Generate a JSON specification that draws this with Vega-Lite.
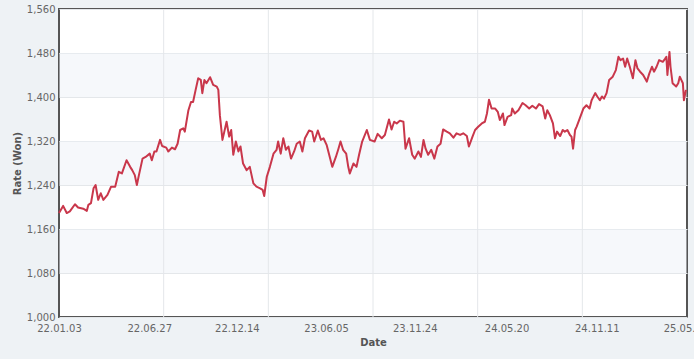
{
  "$schema": "https://vega.github.io/schema/vega-lite/v6.json",
  "width": 628,
  "height": 308,
  "autosize": {"type": "none"},
  "padding": {"left": 59, "top": 9, "right": 7, "bottom": 42},
  "background": "#eef2f5",
  "datasets": {
    "bands": [{"lo": 1080, "hi": 1160}, {"lo": 1240, "hi": 1320}, {"lo": 1400, "hi": 1480}],
    "grid": [{"g": "2022-07-25"}, {"g": "2023-02-13"}, {"g": "2023-09-04"}, {"g": "2024-03-25"}, {"g": "2024-10-14"}],
    "rates": [
      {"date": "2022-01-03", "rate": 1189}, {"date": "2022-01-11", "rate": 1202}, {"date": "2022-01-18", "rate": 1189},
      {"date": "2022-01-24", "rate": 1192}, {"date": "2022-02-03", "rate": 1205}, {"date": "2022-02-09", "rate": 1199},
      {"date": "2022-02-19", "rate": 1197}, {"date": "2022-02-26", "rate": 1193}, {"date": "2022-03-01", "rate": 1204},
      {"date": "2022-03-06", "rate": 1207}, {"date": "2022-03-11", "rate": 1234}, {"date": "2022-03-15", "rate": 1240},
      {"date": "2022-03-20", "rate": 1213}, {"date": "2022-03-25", "rate": 1225}, {"date": "2022-03-30", "rate": 1213},
      {"date": "2022-04-07", "rate": 1222}, {"date": "2022-04-14", "rate": 1237}, {"date": "2022-04-22", "rate": 1237},
      {"date": "2022-04-29", "rate": 1264}, {"date": "2022-05-05", "rate": 1261}, {"date": "2022-05-14", "rate": 1285},
      {"date": "2022-05-21", "rate": 1273}, {"date": "2022-05-25", "rate": 1267}, {"date": "2022-05-30", "rate": 1258},
      {"date": "2022-06-03", "rate": 1240}, {"date": "2022-06-07", "rate": 1258}, {"date": "2022-06-14", "rate": 1288},
      {"date": "2022-06-20", "rate": 1291}, {"date": "2022-06-28", "rate": 1297}, {"date": "2022-07-02", "rate": 1285},
      {"date": "2022-07-07", "rate": 1301}, {"date": "2022-07-11", "rate": 1301}, {"date": "2022-07-18", "rate": 1322},
      {"date": "2022-07-22", "rate": 1311}, {"date": "2022-07-30", "rate": 1308}, {"date": "2022-08-03", "rate": 1301},
      {"date": "2022-08-10", "rate": 1308}, {"date": "2022-08-16", "rate": 1305}, {"date": "2022-08-21", "rate": 1315},
      {"date": "2022-08-26", "rate": 1340}, {"date": "2022-09-01", "rate": 1343}, {"date": "2022-09-04", "rate": 1337},
      {"date": "2022-09-11", "rate": 1376}, {"date": "2022-09-16", "rate": 1391}, {"date": "2022-09-20", "rate": 1391},
      {"date": "2022-09-25", "rate": 1413}, {"date": "2022-09-30", "rate": 1434}, {"date": "2022-10-05", "rate": 1431},
      {"date": "2022-10-08", "rate": 1407}, {"date": "2022-10-12", "rate": 1431}, {"date": "2022-10-16", "rate": 1425},
      {"date": "2022-10-23", "rate": 1436}, {"date": "2022-10-29", "rate": 1422}, {"date": "2022-11-05", "rate": 1419},
      {"date": "2022-11-08", "rate": 1413}, {"date": "2022-11-11", "rate": 1367}, {"date": "2022-11-16", "rate": 1322},
      {"date": "2022-11-24", "rate": 1355}, {"date": "2022-11-29", "rate": 1328}, {"date": "2022-12-03", "rate": 1340},
      {"date": "2022-12-07", "rate": 1295}, {"date": "2022-12-12", "rate": 1319}, {"date": "2022-12-17", "rate": 1301},
      {"date": "2022-12-21", "rate": 1310}, {"date": "2022-12-26", "rate": 1279}, {"date": "2023-01-02", "rate": 1267},
      {"date": "2023-01-08", "rate": 1273}, {"date": "2023-01-15", "rate": 1243}, {"date": "2023-01-21", "rate": 1237},
      {"date": "2023-01-28", "rate": 1234}, {"date": "2023-02-02", "rate": 1231}, {"date": "2023-02-05", "rate": 1220},
      {"date": "2023-02-10", "rate": 1255}, {"date": "2023-02-16", "rate": 1273}, {"date": "2023-02-23", "rate": 1297},
      {"date": "2023-03-01", "rate": 1304}, {"date": "2023-03-04", "rate": 1319}, {"date": "2023-03-09", "rate": 1297},
      {"date": "2023-03-14", "rate": 1325}, {"date": "2023-03-19", "rate": 1304}, {"date": "2023-03-24", "rate": 1310},
      {"date": "2023-03-29", "rate": 1288}, {"date": "2023-04-04", "rate": 1301}, {"date": "2023-04-09", "rate": 1315},
      {"date": "2023-04-15", "rate": 1319}, {"date": "2023-04-20", "rate": 1301}, {"date": "2023-04-25", "rate": 1325},
      {"date": "2023-05-03", "rate": 1339}, {"date": "2023-05-09", "rate": 1337}, {"date": "2023-05-13", "rate": 1319},
      {"date": "2023-05-20", "rate": 1339}, {"date": "2023-05-26", "rate": 1322}, {"date": "2023-05-31", "rate": 1325},
      {"date": "2023-06-06", "rate": 1313}, {"date": "2023-06-11", "rate": 1295}, {"date": "2023-06-17", "rate": 1273},
      {"date": "2023-06-24", "rate": 1291}, {"date": "2023-06-29", "rate": 1306}, {"date": "2023-07-03", "rate": 1319},
      {"date": "2023-07-08", "rate": 1304}, {"date": "2023-07-14", "rate": 1297}, {"date": "2023-07-18", "rate": 1273},
      {"date": "2023-07-21", "rate": 1261}, {"date": "2023-07-28", "rate": 1279}, {"date": "2023-08-03", "rate": 1273},
      {"date": "2023-08-08", "rate": 1295}, {"date": "2023-08-14", "rate": 1319}, {"date": "2023-08-23", "rate": 1340},
      {"date": "2023-08-29", "rate": 1322}, {"date": "2023-09-07", "rate": 1319}, {"date": "2023-09-13", "rate": 1333},
      {"date": "2023-09-21", "rate": 1325}, {"date": "2023-09-27", "rate": 1331}, {"date": "2023-10-05", "rate": 1359},
      {"date": "2023-10-10", "rate": 1341}, {"date": "2023-10-15", "rate": 1355}, {"date": "2023-10-20", "rate": 1352},
      {"date": "2023-10-26", "rate": 1357}, {"date": "2023-11-02", "rate": 1355}, {"date": "2023-11-06", "rate": 1306},
      {"date": "2023-11-13", "rate": 1325}, {"date": "2023-11-19", "rate": 1295}, {"date": "2023-11-24", "rate": 1288},
      {"date": "2023-12-01", "rate": 1301}, {"date": "2023-12-06", "rate": 1291}, {"date": "2023-12-11", "rate": 1322},
      {"date": "2023-12-15", "rate": 1306}, {"date": "2023-12-20", "rate": 1295}, {"date": "2023-12-26", "rate": 1304},
      {"date": "2024-01-01", "rate": 1288}, {"date": "2024-01-07", "rate": 1310}, {"date": "2024-01-13", "rate": 1315},
      {"date": "2024-01-18", "rate": 1341}, {"date": "2024-01-25", "rate": 1337}, {"date": "2024-01-31", "rate": 1334},
      {"date": "2024-02-07", "rate": 1326}, {"date": "2024-02-13", "rate": 1334}, {"date": "2024-02-20", "rate": 1331},
      {"date": "2024-02-26", "rate": 1334}, {"date": "2024-03-04", "rate": 1329}, {"date": "2024-03-08", "rate": 1310},
      {"date": "2024-03-15", "rate": 1328}, {"date": "2024-03-20", "rate": 1340}, {"date": "2024-03-26", "rate": 1346},
      {"date": "2024-04-02", "rate": 1352}, {"date": "2024-04-08", "rate": 1355}, {"date": "2024-04-12", "rate": 1370},
      {"date": "2024-04-16", "rate": 1395}, {"date": "2024-04-21", "rate": 1379}, {"date": "2024-04-28", "rate": 1379},
      {"date": "2024-05-03", "rate": 1373}, {"date": "2024-05-07", "rate": 1358}, {"date": "2024-05-13", "rate": 1370},
      {"date": "2024-05-16", "rate": 1349}, {"date": "2024-05-22", "rate": 1364}, {"date": "2024-05-29", "rate": 1367},
      {"date": "2024-05-31", "rate": 1379}, {"date": "2024-06-05", "rate": 1370}, {"date": "2024-06-12", "rate": 1376},
      {"date": "2024-06-20", "rate": 1389}, {"date": "2024-06-26", "rate": 1385}, {"date": "2024-07-03", "rate": 1379},
      {"date": "2024-07-09", "rate": 1384}, {"date": "2024-07-16", "rate": 1379}, {"date": "2024-07-22", "rate": 1387},
      {"date": "2024-07-29", "rate": 1383}, {"date": "2024-08-03", "rate": 1361}, {"date": "2024-08-07", "rate": 1376},
      {"date": "2024-08-12", "rate": 1367}, {"date": "2024-08-18", "rate": 1352}, {"date": "2024-08-22", "rate": 1325},
      {"date": "2024-08-26", "rate": 1337}, {"date": "2024-09-01", "rate": 1329}, {"date": "2024-09-06", "rate": 1340},
      {"date": "2024-09-10", "rate": 1337}, {"date": "2024-09-15", "rate": 1340}, {"date": "2024-09-20", "rate": 1331},
      {"date": "2024-09-23", "rate": 1328}, {"date": "2024-09-26", "rate": 1306}, {"date": "2024-09-30", "rate": 1340},
      {"date": "2024-10-03", "rate": 1346}, {"date": "2024-10-09", "rate": 1361}, {"date": "2024-10-16", "rate": 1379},
      {"date": "2024-10-22", "rate": 1385}, {"date": "2024-10-28", "rate": 1379}, {"date": "2024-11-01", "rate": 1394},
      {"date": "2024-11-08", "rate": 1407}, {"date": "2024-11-12", "rate": 1401}, {"date": "2024-11-17", "rate": 1394},
      {"date": "2024-11-21", "rate": 1401}, {"date": "2024-11-25", "rate": 1397}, {"date": "2024-11-30", "rate": 1407},
      {"date": "2024-12-05", "rate": 1431}, {"date": "2024-12-12", "rate": 1437}, {"date": "2024-12-18", "rate": 1449},
      {"date": "2024-12-23", "rate": 1473}, {"date": "2024-12-27", "rate": 1467}, {"date": "2025-01-01", "rate": 1470},
      {"date": "2025-01-05", "rate": 1455}, {"date": "2025-01-09", "rate": 1470}, {"date": "2025-01-14", "rate": 1455},
      {"date": "2025-01-20", "rate": 1434}, {"date": "2025-01-25", "rate": 1467}, {"date": "2025-01-29", "rate": 1452},
      {"date": "2025-02-03", "rate": 1446}, {"date": "2025-02-09", "rate": 1440}, {"date": "2025-02-16", "rate": 1428},
      {"date": "2025-02-21", "rate": 1443}, {"date": "2025-02-26", "rate": 1455}, {"date": "2025-03-02", "rate": 1446},
      {"date": "2025-03-07", "rate": 1455}, {"date": "2025-03-12", "rate": 1467}, {"date": "2025-03-19", "rate": 1464},
      {"date": "2025-03-23", "rate": 1469}, {"date": "2025-03-26", "rate": 1473}, {"date": "2025-03-28", "rate": 1440},
      {"date": "2025-04-01", "rate": 1482}, {"date": "2025-04-03", "rate": 1455}, {"date": "2025-04-07", "rate": 1425},
      {"date": "2025-04-14", "rate": 1419}, {"date": "2025-04-18", "rate": 1425}, {"date": "2025-04-21", "rate": 1437},
      {"date": "2025-04-27", "rate": 1425}, {"date": "2025-04-29", "rate": 1394}, {"date": "2025-05-03", "rate": 1413}
    ]
  },
  "resolve": {"axis": {"x": "independent"}},
  "layer": [
    {
      "data": {"name": "bands"},
      "mark": {"type": "rect", "fill": "#eaf0f6", "opacity": 0.45},
      "encoding": {
        "y": {"field": "lo", "type": "quantitative"},
        "y2": {"field": "hi"}
      }
    },
    {
      "data": {"name": "grid"},
      "mark": {"type": "rule", "color": "#e4e7ea", "strokeWidth": 1},
      "encoding": {
        "x": {"field": "g", "type": "temporal", "axis": null}
      }
    },
    {
      "data": {"name": "rates"},
      "mark": {"type": "line", "color": "#c9374b", "strokeWidth": 2, "strokeJoin": "round"},
      "encoding": {
        "x": {
          "field": "date",
          "type": "temporal",
          "scale": {"type": "utc", "domain": [{"year": 2022, "month": 1, "date": 3, "utc": true}, {"year": 2025, "month": 5, "date": 5, "utc": true}]},
          "axis": {
            "title": "Date",
            "grid": false,
            "labelExpr": "utcFormat(datum.value, '%y.%m.%d')",
            "labelFlush": false,
            "labelOverlap": false,
            "labelPadding": 6,
            "titlePadding": 4,
            "values": [
              {"year": 2022, "month": 1, "date": 3, "utc": true},
              {"year": 2022, "month": 6, "date": 27, "utc": true},
              {"year": 2022, "month": 12, "date": 14, "utc": true},
              {"year": 2023, "month": 6, "date": 5, "utc": true},
              {"year": 2023, "month": 11, "date": 24, "utc": true},
              {"year": 2024, "month": 5, "date": 20, "utc": true},
              {"year": 2024, "month": 11, "date": 11, "utc": true},
              {"year": 2025, "month": 5, "date": 2, "utc": true}
            ]
          }
        },
        "y": {
          "field": "rate",
          "type": "quantitative",
          "scale": {"domain": [1000, 1560], "nice": false, "zero": false},
          "axis": {
            "title": "Rate (Won)",
            "grid": true,
            "gridColor": "#e4e7ea",
            "format": ",d",
            "values": [1000, 1080, 1160, 1240, 1320, 1400, 1480, 1560],
            "labelPadding": 4,
            "titlePadding": 4
          }
        }
      }
    }
  ],
  "config": {
    "view": {"stroke": "#555555", "strokeWidth": 2, "fill": "#ffffff"},
    "axis": {
      "domain": false,
      "ticks": false,
      "labelFont": "DejaVu Sans",
      "labelFontSize": 10,
      "labelColor": "#666666",
      "titleFont": "DejaVu Sans",
      "titleFontSize": 10,
      "titleFontWeight": "bold",
      "titleColor": "#555555"
    }
  }
}
